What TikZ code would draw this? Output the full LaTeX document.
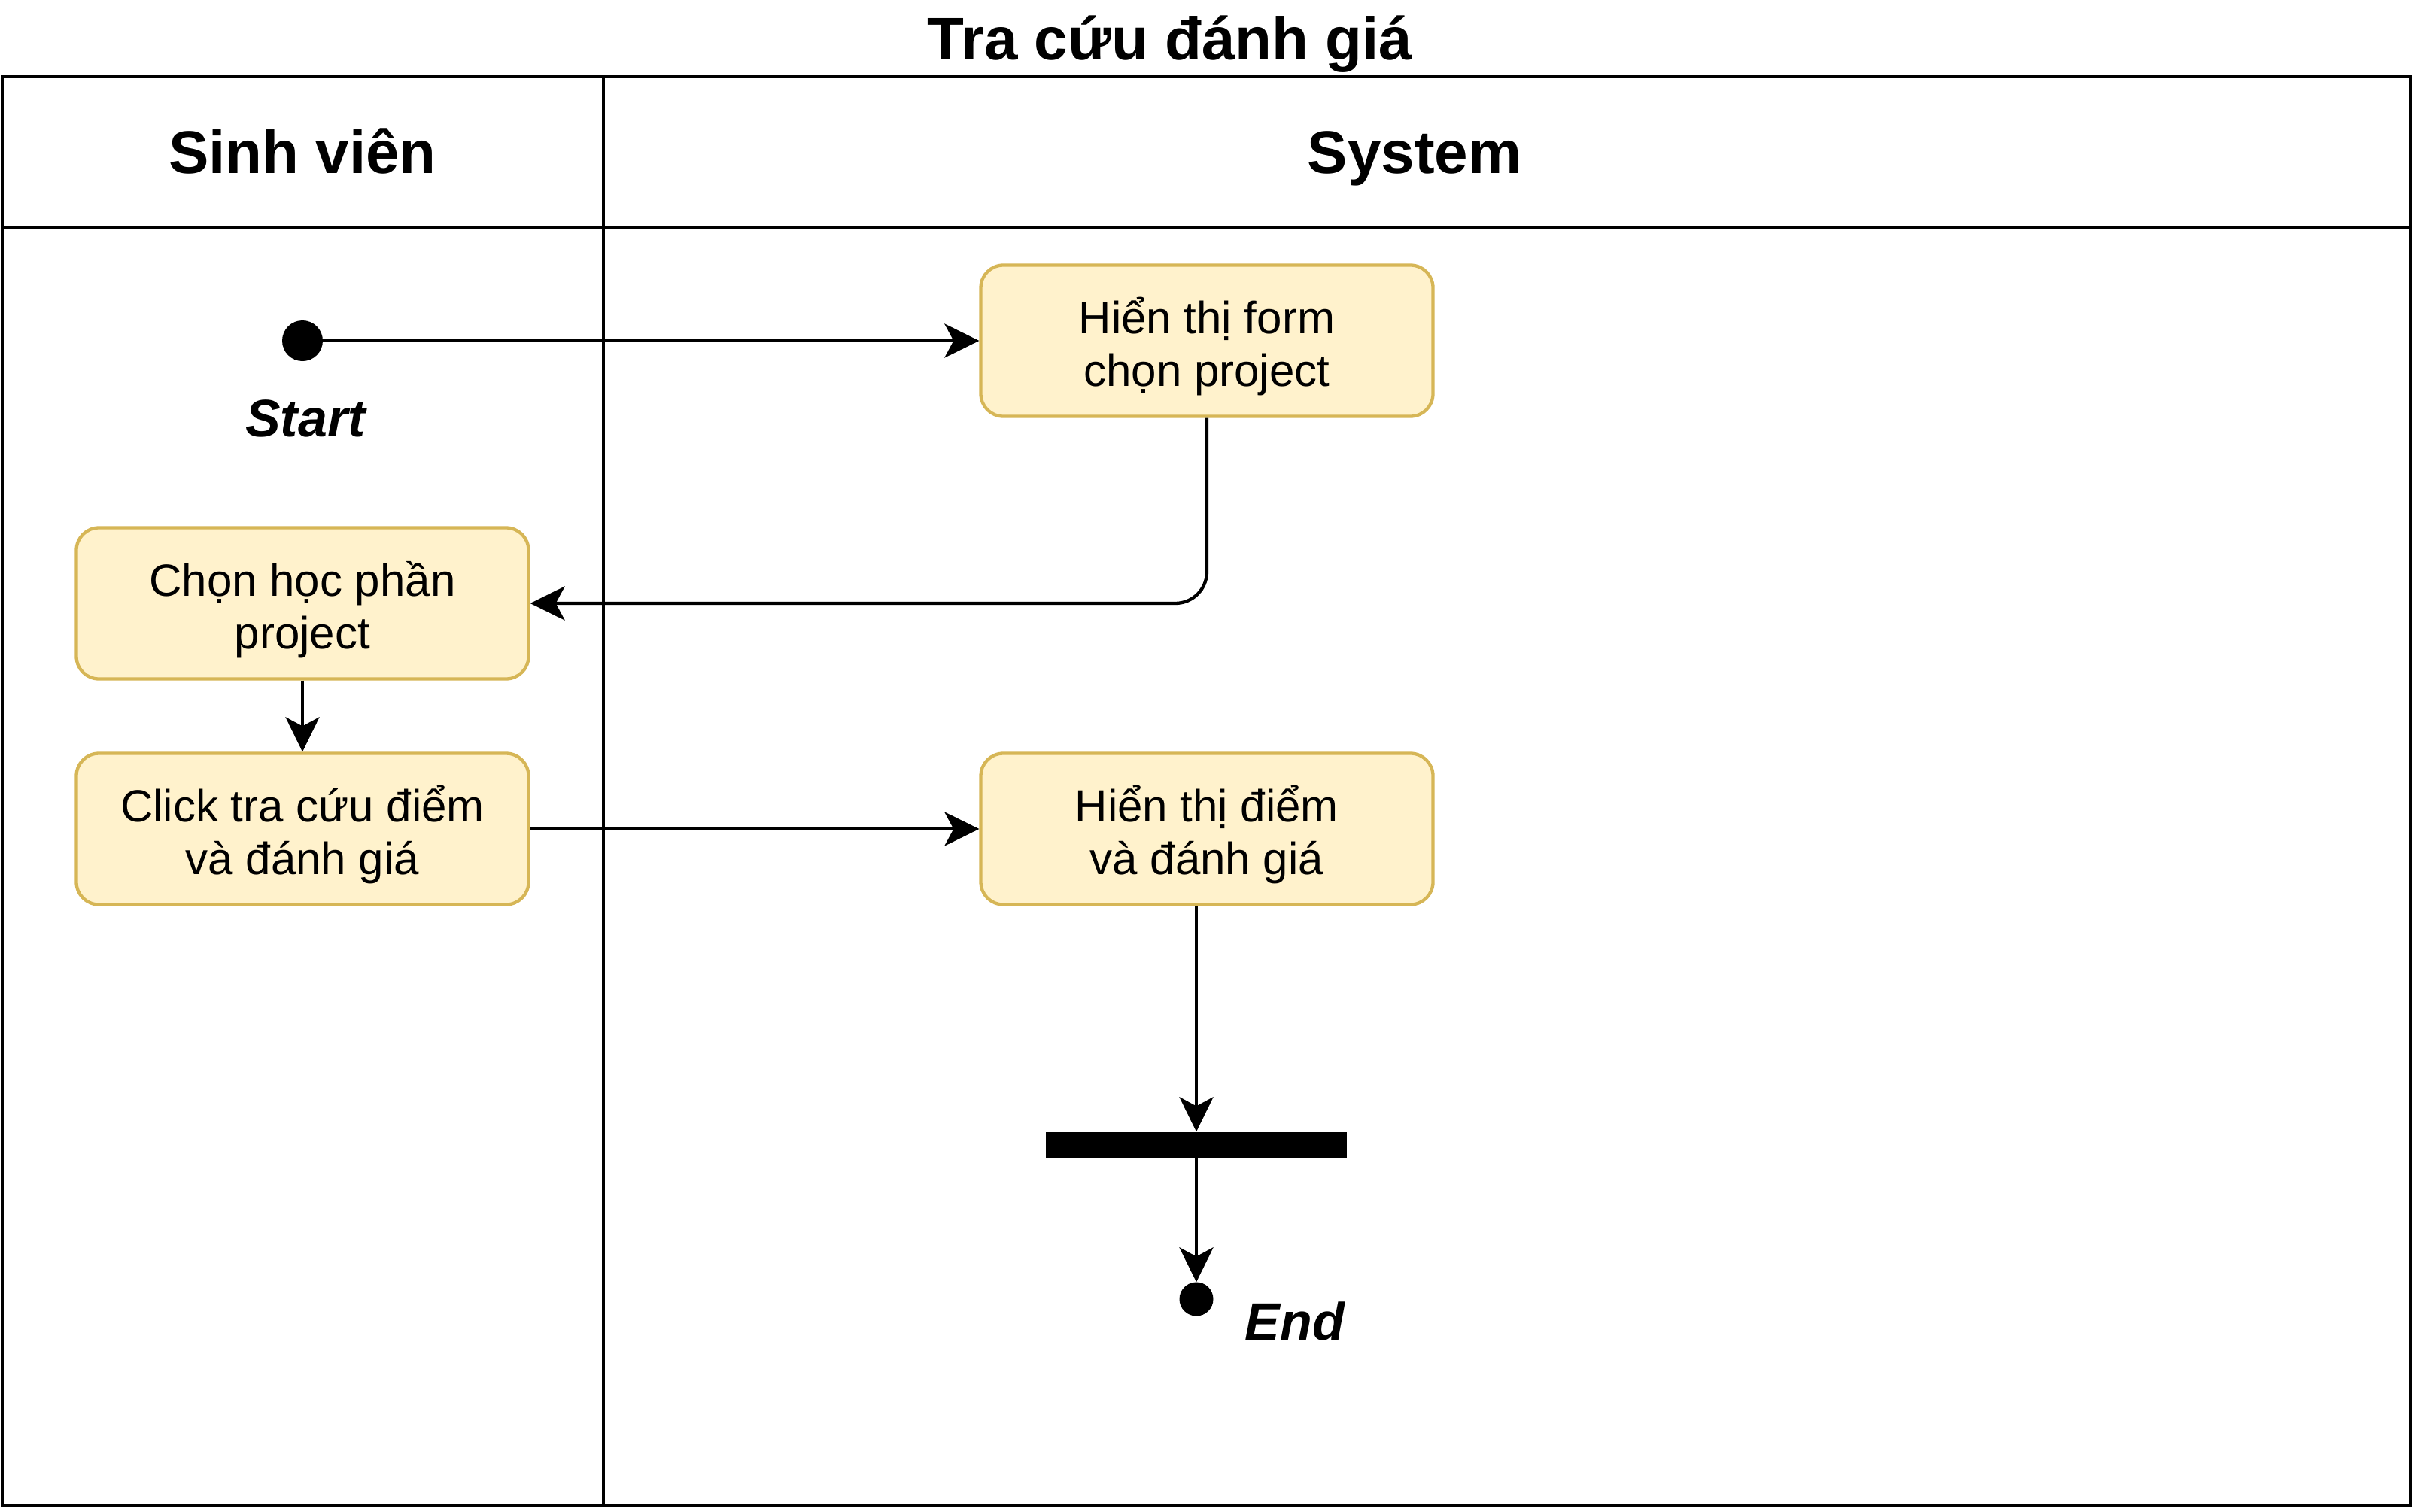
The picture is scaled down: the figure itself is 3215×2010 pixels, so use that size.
\documentclass[tikz,border=0pt]{standalone}
\usepackage{fontspec}
\setmainfont{Liberation Sans}
\usetikzlibrary{arrows.meta}
\definecolor{boxfill}{HTML}{FFF2CC}
\definecolor{boxline}{HTML}{D6B656}
\tikzset{
  actbox/.style={draw=boxline, fill=boxfill, line width=4.3pt, rounded corners=30pt,
    minimum width=601pt, minimum height=201pt, inner sep=0pt, align=center,
    font=\fontsize{60}{70}\selectfont, text height=120pt, text depth=0pt},
  conn/.style={draw=black, line width=4.3pt, -{Stealth[length=46pt,width=45pt,inset=12pt]}},
  lane/.style={draw=black, line width=4.5pt},
  hdr/.style={anchor=base, font=\fontsize{80}{96}\selectfont\bfseries, inner sep=0pt},
  lbl/.style={anchor=base, font=\fontsize{70}{84}\selectfont\bfseries\itshape, inner sep=0pt},
  dot/.style={circle, fill=black, inner sep=0pt}
}
\begin{document}
\begin{tikzpicture}[x=1pt,y=-1pt]
\useasboundingbox (0,0) rectangle (3215,2010);
% pool
\draw[lane] (3,102) rectangle (3204,2002);
\draw[lane] (3,302) -- (3204,302);
\draw[lane] (802,102) -- (802,2002);
% texts
\node[hdr] (title) at (1555,80) {Tra cứu đánh giá};
\node[hdr] (h1) at (402,230) {Sinh viên};
\node[hdr] (h2) at (1880,230) {System};
% nodes
\node[dot, minimum size=54pt] (start) at (402,453) {};
\node[lbl] (startlbl) at (406,580) {Start};
\node[actbox] (form) at (1604,453) {Hiển thị form\\chọn project};
\node[actbox] (chon) at (402,802) {Chọn học phần\\project};
\node[actbox] (click) at (402,1102) {Click tra cứu điểm\\và đánh giá};
\node[actbox] (diem) at (1604,1102) {Hiển thị điểm\\và đánh giá};
\node[fill=black, minimum width=400pt, minimum height=35pt, inner sep=0pt] (bar) at (1590,1522) {};
\node[dot, minimum size=45pt] (end) at (1590,1727) {};
\node[lbl] (endlbl) at (1721,1781) {End};
% connectors
\draw[conn] (start.east) -- (form.west);
\draw[conn, rounded corners=42pt] (form.south) |- (chon.east);
\draw[conn] (chon.south) -- (click.north);
\draw[conn] (click.east) -- (diem.west);
\draw[conn] (diem.south -| bar.north) -- (bar.north);
\draw[conn] (bar.south) -- (end.north);
\end{tikzpicture}
\end{document}
